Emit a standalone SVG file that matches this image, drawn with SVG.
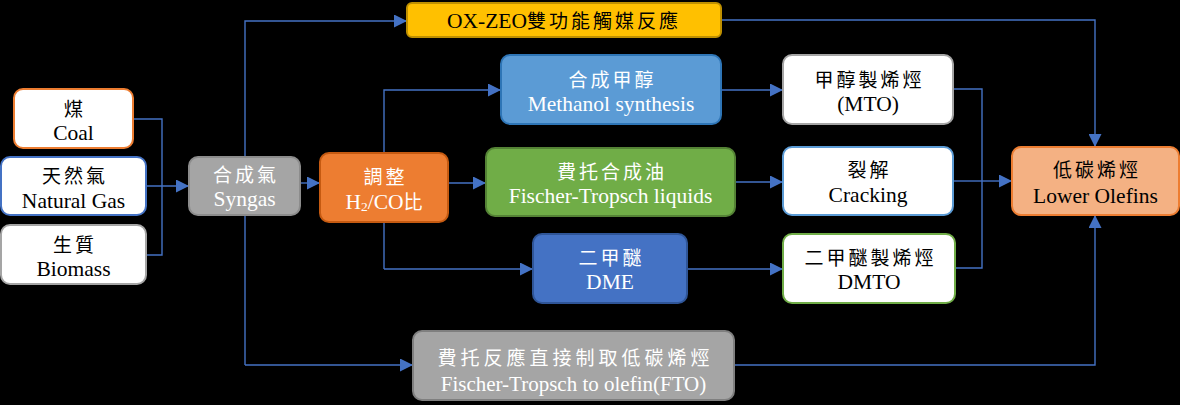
<svg xmlns="http://www.w3.org/2000/svg" width="1180" height="405" viewBox="0 0 1180 405">
<style>
text{font-family:"Liberation Serif",serif;text-anchor:middle;}
.lat{font-family:"Liberation Serif",serif;font-size:21.5px;}
.cjk{font-family:"Noto Sans CJK TC",sans-serif;font-size:19px;letter-spacing:3px;}
.w{fill:#ffffff;}
.k{fill:#000000;}
.conn{fill:none;stroke:#4472C4;stroke-width:1.4;}
.node{stroke-width:2;}
</style>
<defs>
<marker id="arr" viewBox="0 0 10 10" refX="10" refY="5" markerWidth="13" markerHeight="13" markerUnits="userSpaceOnUse" orient="auto">
<path d="M0,0 L10,5 L0,10 z" fill="#4472C4"/>
</marker>
</defs>
<rect x="0" y="0" width="1180" height="405" fill="#000000"/>
<g id="connectors">
<path class="conn" d="M133,119 H162 V255 H146"/>
<path class="conn" d="M146,186 H189" marker-end="url(#arr)"/>
<path class="conn" d="M245,365 V21 H407" marker-end="url(#arr)"/>
<path class="conn" d="M245,365 H413" marker-end="url(#arr)"/>
<path class="conn" d="M300,183 H320" marker-end="url(#arr)"/>
<path class="conn" d="M448,183 H486" marker-end="url(#arr)"/>
<path class="conn" d="M384,269 V90 H501" marker-end="url(#arr)"/>
<path class="conn" d="M384,269 H533" marker-end="url(#arr)"/>
<path class="conn" d="M721,90 H783" marker-end="url(#arr)"/>
<path class="conn" d="M735,182 H783" marker-end="url(#arr)"/>
<path class="conn" d="M687,269 H783" marker-end="url(#arr)"/>
<path class="conn" d="M953,89 H982 V268 H955"/>
<path class="conn" d="M953,181 H982"/>
<path class="conn" d="M982,181 H1012" marker-end="url(#arr)"/>
<path class="conn" d="M721,20 H1095 V147" marker-end="url(#arr)"/>
<path class="conn" d="M734,365 H1095 V215" marker-end="url(#arr)"/>
</g>
<g id="coal">
<rect class="node" x="14" y="89" width="119" height="59" rx="9" fill="#ffffff" stroke="#ED7D31"/>
<text class="cjk k" x="75" y="115.5">煤</text>
<text class="lat k" x="73.5" y="140">Coal</text>
</g>
<g id="natural-gas">
<rect class="node" x="1" y="157" width="145" height="58" rx="9" fill="#ffffff" stroke="#4472C4"/>
<text class="cjk k" x="75" y="183">天然氣</text>
<text class="lat k" x="73.5" y="207.5">Natural Gas</text>
</g>
<g id="biomass">
<rect class="node" x="1" y="225" width="145" height="59" rx="9" fill="#ffffff" stroke="#A5A5A5"/>
<text class="cjk k" x="75" y="251.5">生質</text>
<text class="lat k" x="73.5" y="276">Biomass</text>
</g>
<g id="syngas">
<rect class="node" x="189" y="157" width="111" height="58" rx="9" fill="#A5A5A5" stroke="#8C8C8C"/>
<text class="cjk w" x="246" y="182">合成氣</text>
<text class="lat w" x="244.5" y="205.5">Syngas</text>
</g>
<g id="adjust">
<rect class="node" x="320" y="153" width="128" height="69" rx="9" fill="#ED7D31" stroke="#C55A11"/>
<text class="cjk w" x="385.5" y="183.5">調整</text>
<text class="lat w" x="384" y="208.5">H<tspan font-size="13.5" dy="2">2</tspan><tspan dy="-2">/CO</tspan><tspan font-family="Noto Sans CJK TC, sans-serif" font-size="19">比</tspan></text>
</g>
<g id="ox-zeo">
<rect class="node" x="407" y="3" width="314" height="34" rx="5" fill="#FFC000" stroke="#BF9000"/>
<text class="lat k" x="564" y="28">OX-ZEO<tspan font-family="Noto Sans CJK TC, sans-serif" font-size="19" letter-spacing="3">雙功能觸媒反應</tspan></text>
</g>
<g id="methanol">
<rect class="node" x="501" y="55" width="220" height="69" rx="9" fill="#5B9BD5" stroke="#2E75B6"/>
<text class="cjk w" x="612.5" y="86.5">合成甲醇</text>
<text class="lat w" x="611" y="110.5">Methanol synthesis</text>
</g>
<g id="ft-liquids">
<rect class="node" x="486" y="148" width="249" height="68" rx="9" fill="#70AD47" stroke="#548235"/>
<text class="cjk w" x="612" y="178.5">費托合成油</text>
<text class="lat w" x="610.5" y="202.5">Fischer-Tropsch liquids</text>
</g>
<g id="dme">
<rect class="node" x="533" y="234" width="154" height="69" rx="9" fill="#4472C4" stroke="#2F5597"/>
<text class="cjk w" x="611.5" y="264.5">二甲醚</text>
<text class="lat w" x="610" y="288.5">DME</text>
</g>
<g id="mto">
<rect class="node" x="783" y="55" width="170" height="69" rx="9" fill="#ffffff" stroke="#A5A5A5"/>
<text class="cjk k" x="869.5" y="86.5">甲醇製烯烴</text>
<text class="lat k" x="868" y="110.5">(MTO)</text>
</g>
<g id="cracking">
<rect class="node" x="783" y="147" width="170" height="68" rx="9" fill="#ffffff" stroke="#5B9BD5"/>
<text class="cjk k" x="869.5" y="176.5">裂解</text>
<text class="lat k" x="868" y="201.5">Cracking</text>
</g>
<g id="dmto">
<rect class="node" x="783" y="234" width="172" height="69" rx="9" fill="#ffffff" stroke="#70AD47"/>
<text class="cjk k" x="870.5" y="264.5">二甲醚製烯烴</text>
<text class="lat k" x="869" y="288.5">DMTO</text>
</g>
<g id="lower-olefins">
<rect class="node" x="1012" y="147" width="167" height="68" rx="9" fill="#F4B183" stroke="#ED7D31"/>
<text class="cjk k" x="1097" y="176.5">低碳烯烴</text>
<text class="lat k" x="1095.5" y="202.5">Lower Olefins</text>
</g>
<g id="fto">
<rect class="node" x="413" y="331" width="321" height="69" rx="9" fill="#A5A5A5" stroke="#7F7F7F"/>
<text class="cjk w" x="575.5" y="365" style="letter-spacing:4px">費托反應直接制取低碳烯烴</text>
<text class="lat w" x="573.5" y="391" style="font-size:21px">Fischer-Tropsch to olefin(FTO)</text>
</g>
</svg>
